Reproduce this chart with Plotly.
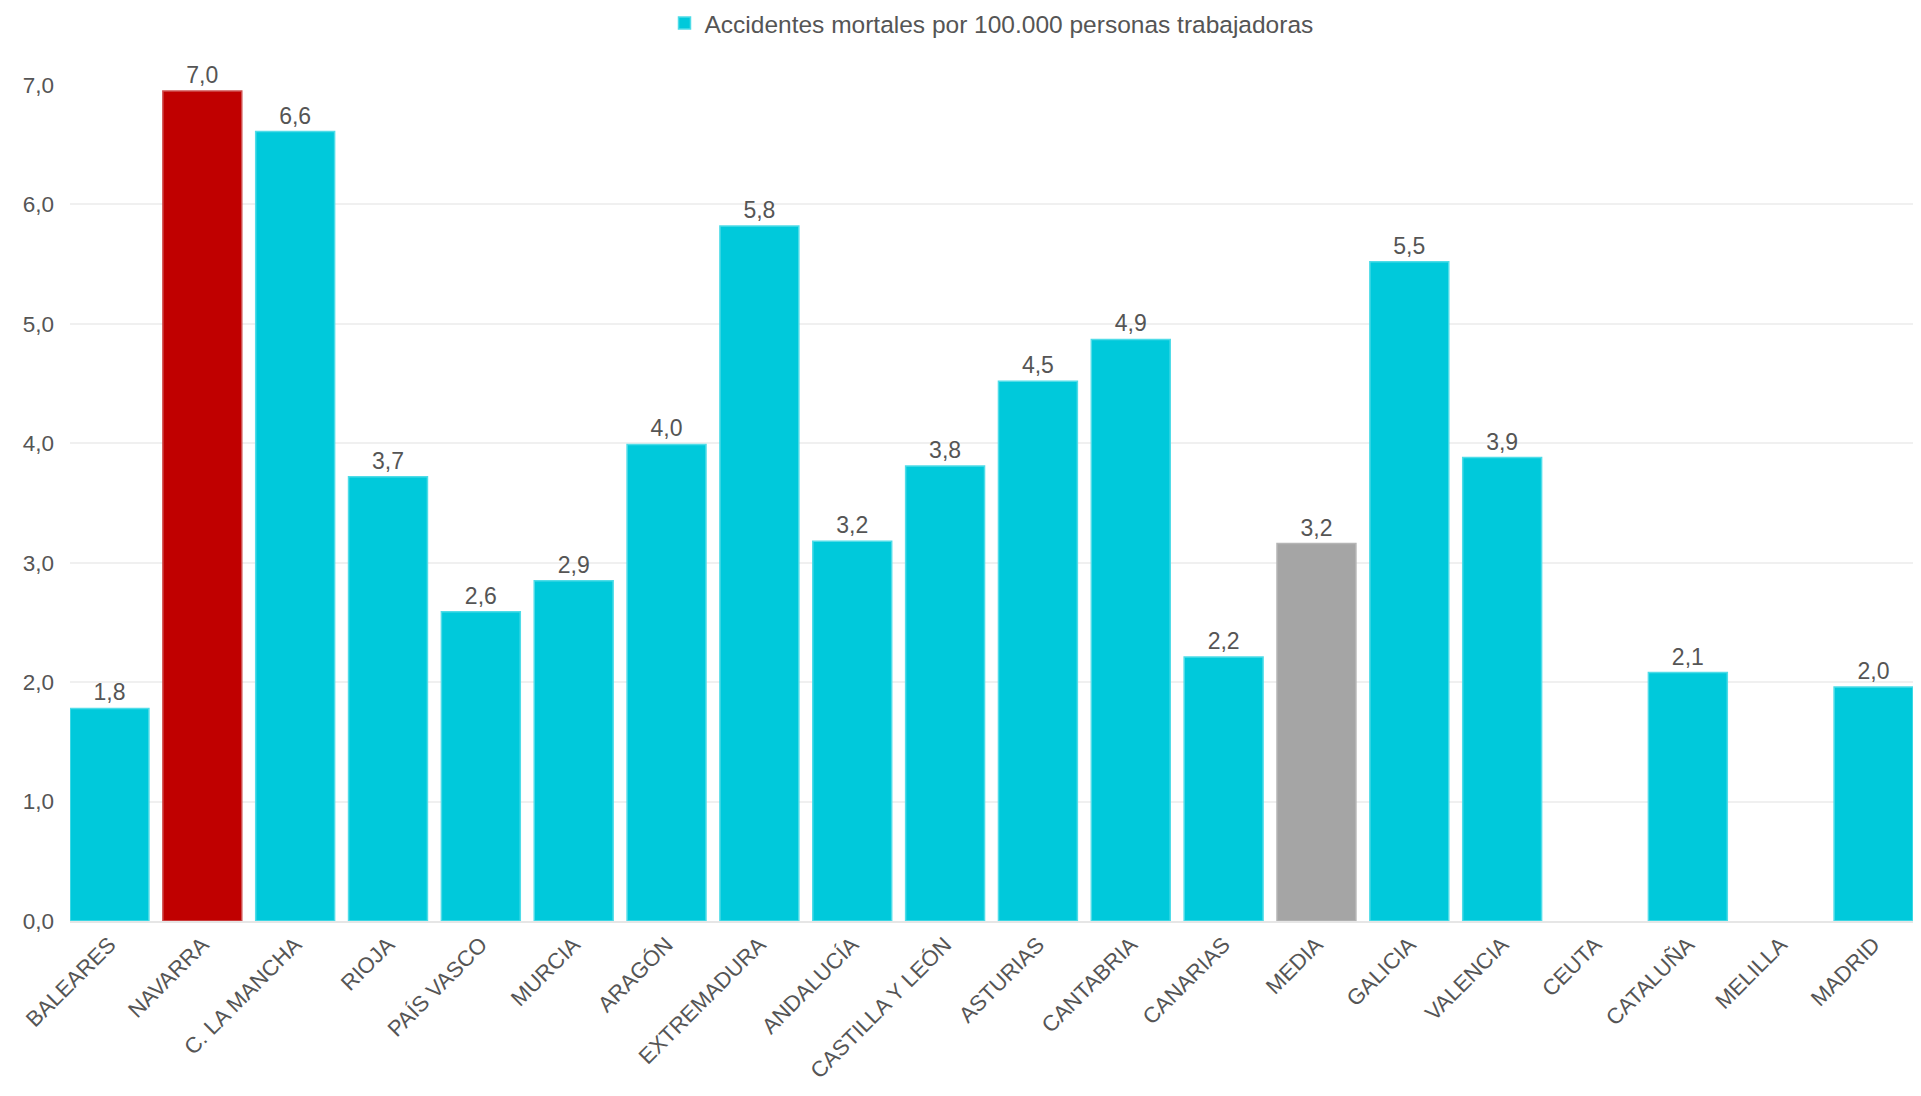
import plotly.graph_objects as go

categories = ["BALEARES", "NAVARRA", "C. LA MANCHA", "RIOJA", "PAÍS VASCO", "MURCIA",
              "ARAGÓN", "EXTREMADURA", "ANDALUCÍA", "CASTILLA Y LEÓN", "ASTURIAS",
              "CANTABRIA", "CANARIAS", "MEDIA", "GALICIA", "VALENCIA", "CEUTA",
              "CATALUÑA", "MELILLA", "MADRID"]
values = [1.78, 6.95, 6.61, 3.72, 2.59, 2.85, 3.99, 5.82, 3.18, 3.81, 4.52,
          4.87, 2.21, 3.16, 5.52, 3.88, None, 2.08, None, 1.96]
series_name = "Accidentes mortales por 100.000 personas trabajadoras"

CYAN = "#00C9DB"
RED = "#C00000"
GREY = "#A5A5A5"
colors = [RED if c == "NAVARRA" else GREY if c == "MEDIA" else CYAN for c in categories]
edge = ["#D05050" if c == "NAVARRA" else "#B5B5B5" if c == "MEDIA" else "#4FDCE8" for c in categories]

BARGAP = 0.15

fig = go.Figure(go.Bar(
    x=categories, y=values, name=series_name, showlegend=True,
    marker=dict(color=colors, line=dict(color=edge, width=1.5)),
    texttemplate="%{y:.1f}", textposition="outside", cliponaxis=False,
    textfont=dict(size=23, color="#555555"),
))

n = len(categories)
fig.update_layout(
    width=1905, height=1080,
    margin=dict(l=62, r=0, t=77, b=167, autoexpand=False),
    paper_bgcolor="white", plot_bgcolor="white",
    separators=",.",
    font=dict(family="Liberation Sans, Arial, sans-serif", size=22, color="#555555"),
    bargap=BARGAP,
    legend=dict(orientation="h", x=0.5, xanchor="center", y=0.986, yanchor="middle",
                yref="container", font=dict(size=24.5, color="#555555")),
    xaxis=dict(tickangle=-45, showline=True, linecolor="#E6E6E6", linewidth=2,
               range=[-0.5 + BARGAP / 2, n - 0.5 - BARGAP / 2],
               tickfont=dict(size=22, color="#555555"), showgrid=False),
    yaxis=dict(range=[0, 7], tickformat=".1f", dtick=1, showgrid=True,
               gridcolor="#F0F0F0", gridwidth=2, zeroline=False,
               tickfont=dict(size=22.5, color="#555555"), ticklabelstandoff=15),
)

fig.write_html("out.html")
